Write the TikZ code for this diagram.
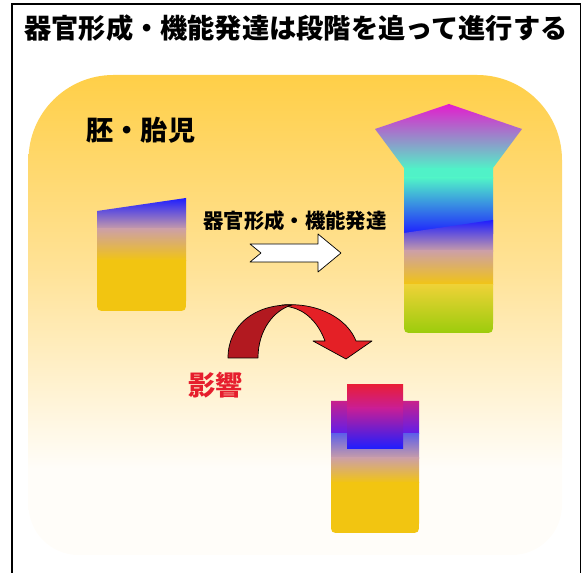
\documentclass[tikz,border=0pt]{standalone}
\usepackage{fontspec}
\setmainfont{Noto Sans CJK JP}
\definecolor{bgtop}{RGB}{255,207,72}
\definecolor{bgmid}{RGB}{255,226,150}
\definecolor{bgbot}{RGB}{255,253,249}
\definecolor{bodyblue}{RGB}{30,30,255}
\definecolor{bodymid}{RGB}{205,160,165}
\definecolor{bodyyellow}{RGB}{242,197,17}
\definecolor{headmag}{RGB}{228,28,205}
\definecolor{headmint}{RGB}{80,242,200}
\definecolor{stemtop}{RGB}{238,210,55}
\definecolor{stemgreen}{RGB}{152,204,10}
\definecolor{capred}{RGB}{232,30,58}
\definecolor{capmag}{RGB}{200,30,150}
\definecolor{sidemag}{RGB}{200,32,140}
\definecolor{sideviolet}{RGB}{95,30,235}
\definecolor{sideblue}{RGB}{95,95,232}
\definecolor{arrowdark}{RGB}{178,25,32}
\definecolor{arrowred}{RGB}{228,32,38}
\definecolor{txtred}{RGB}{230,30,45}
% backdrop fades out before the bottom edge
\pgfdeclareverticalshading{backdrop}{100bp}{color(0bp)=(bgbot); color(25bp)=(bgbot);
  color(34bp)=(bgbot); color(55bp)=(bgmid); color(75bp)=(bgtop); color(100bp)=(bgtop)}
\tikzset{
  ttl/.style = {font=\bfseries\fontsize{15.5pt}{18pt}\selectfont, inner sep=0pt},
  sub/.style = {font=\bfseries\fontsize{11.6pt}{14pt}\selectfont, inner sep=0pt},
  outl/.style = {draw=black, line width=0.4pt, line join=round}
}
\begin{document}
\begin{tikzpicture}[x=0.02cm, y=-0.02cm]
  \useasboundingbox (0,0) rectangle (582,573);
  % open frame and the rounded backdrop
  \draw[line width=0.8pt] (12,580) -- (12,4) -- (580.5,4) -- (580.5,580);
  \shade[shading=backdrop]
    (28.5,160) .. controls (28.5,113) and (66.5,75) .. (113.5,75) -- (477,75)
    .. controls (524,75) and (562,113) .. (562,160) -- (562,505)
    .. controls (562,532.6) and (539.6,555) .. (512,555) -- (78.5,555)
    .. controls (50.9,555) and (28.5,532.6) .. (28.5,505) -- cycle;

  % early body
  \begin{scope}
    \clip (97,211) -- (186,198) -- (186,301) .. controls (186,311) .. (176,311)
      -- (107,311) .. controls (97,311) .. (97,301) -- cycle;
    \shade[top color=bodyblue, bottom color=bodymid] (90,198) rectangle (190,230);
    \shade[top color=bodymid, bottom color=bodyyellow] (90,229) rectangle (190,261);
    \fill[bodyyellow] (90,260) rectangle (190,315);
  \end{scope}

  % grown body with head and stem
  \begin{scope}
    \clip (449,104) -- (522,129) -- (493,168) -- (493,323) .. controls (493,333) .. (483,333)
      -- (414,333) .. controls (404,333) .. (404,323) -- (404,168) -- (375,129) -- cycle;
    \shade[top color=headmag, bottom color=headmint] (370,104) rectangle (530,169);
    \fill[headmint] (370,168) rectangle (530,179);
    \shade[top color=headmint, bottom color=bodyblue] (370,178) rectangle (530,234);
    \shade[top color=bodyblue, bottom color=bodymid] (404,233) -- (493,220) -- (493,252) -- (404,252) -- cycle;
    \shade[top color=bodymid, bottom color=bodyyellow] (400,251) rectangle (500,285);
    \shade[top color=stemtop, bottom color=stemgreen] (400,284.5) rectangle (500,335);
  \end{scope}

  % affected body
  \begin{scope}
    \clip (331,401) -- (419,401) -- (419,523) .. controls (419,533) .. (409,533)
      -- (341,533) .. controls (331,533) .. (331,523) -- cycle;
    \shade[top color=sidemag, bottom color=sideviolet] (325,401) rectangle (425,434);
    \shade[top color=sideblue, bottom color=bodymid] (325,433.5) rectangle (425,459);
    \shade[top color=bodymid, bottom color=bodyyellow] (325,458) rectangle (425,483);
    \fill[bodyyellow] (325,482) rectangle (425,540);
  \end{scope}
  \shade[top color=capred, bottom color=capmag] (347,385) rectangle (403,408.5);
  \shade[top color=capmag, bottom color=bodyblue] (347,408) rectangle (403,449);

  % labels
  \node[ttl] (title) at (296,28.5) {器官形成・機能発達は段階を追って進行する};
  \node[ttl] (embryo) at (141,130) {胚・胎児};
  \node[sub] (organ) at (295,221) {器官形成・機能発達};
  \node[ttl, text=txtred] (effect) at (215.5,385) {影響};

  % block arrows
  \filldraw[fill=white, outl] (250,244) -- (318,244) -- (318,234) -- (341,253)
    -- (318,272) -- (318,262) -- (250,262) -- (261,253) -- cycle;
  \filldraw[fill=arrowred, outl] (282,305) .. controls (320,302) and (348,320) .. (356,341)
    -- (372,341) -- (346,359) -- (313,341) -- (325,341)
    .. controls (318,322) and (305,310) .. (290,307) -- cycle;
  \filldraw[fill=arrowdark, outl] (228,358) .. controls (228,325) and (255,304) .. (292,305)
    .. controls (274,310) and (258,330) .. (258,358) -- cycle;
\end{tikzpicture}
\end{document}
